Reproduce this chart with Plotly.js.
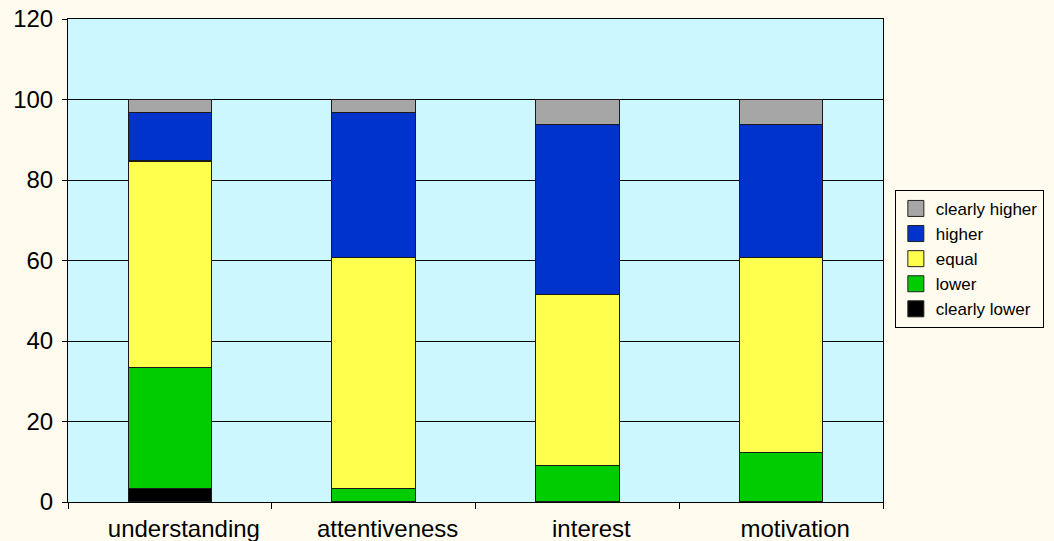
<!DOCTYPE html>
<html>
<head>
<meta charset="utf-8">
<script src="https://cdn.plot.ly/plotly-3.0.1.min.js"></script>
<style>html,body{margin:0;padding:0;background:#FFFCEF;}</style>
</head>
<body>
<div id="chart" style="width:1054px;height:541px;"></div>
<script>
const categories = ["understanding", "attentiveness", "interest", "motivation"];
const clearlyLower = [3.3, 0, 0, 0];
const lower = [30.2, 3.3, 9.1, 12.3];
const equal = [51.2, 57.4, 42.5, 48.4];
const higher = [12.1, 36.1, 42.2, 33.1];
const clearlyHigher = [3.2, 3.2, 6.2, 6.2];
const yTicks = [0, 20, 40, 60, 80, 100, 120];

const seriesNames = ["clearly lower", "lower", "equal", "higher", "clearly higher"];
const seriesValues = [clearlyLower, lower, equal, higher, clearlyHigher];
const seriesColors = ["#000000", "#00CC00", "#FFFF4D", "#0033CC", "#A6A6A6"];

const traces = seriesNames.map((n, i) => ({
  type: "bar",
  name: n,
  legendgroup: n,
  showlegend: false,
  x: categories,
  y: seriesValues[i],
  marker: {color: seriesColors[i], line: {color: "#1a1a1a", width: 1.2}},
  hoverinfo: "x+y+name"
}));
// legend entries (larger square swatches)
seriesNames.forEach((n, i) => {
  traces.push({
    type: "scatter", mode: "markers", name: n, legendgroup: n,
    x: [null], y: [null],
    marker: {symbol: "square", size: 16, color: seriesColors[i], line: {color: "#222", width: 1}},
    hoverinfo: "skip"
  });
});

const layout = {
  width: 1054, height: 541,
  margin: {l: 68, r: 171, t: 19, b: 39, pad: 0},
  paper_bgcolor: "#FFFCEF",
  plot_bgcolor: "#CCF7FF",
  barmode: "stack",
  bargap: 0.59,
  font: {family: "Liberation Sans, Arial, sans-serif", color: "#000000", size: 20},
  xaxis: {
    type: "category",
    showline: true, linecolor: "#000000", linewidth: 1, mirror: true,
    ticks: "outside", ticklen: 6, tickcolor: "#000000", tickson: "boundaries",
    tickfont: {size: 24},
    ticklabelstandoff: 5,
    ticklabelshift: 14,
    showgrid: false
  },
  yaxis: {
    range: [0, 120],
    tickvals: yTicks,
    ticktext: yTicks.map(String),
    showline: true, linecolor: "#000000", linewidth: 1, mirror: true,
    ticks: "outside", ticklen: 5, tickcolor: "#000000",
    showgrid: true, gridcolor: "#000000", gridwidth: 1,
    zeroline: false,
    tickfont: {size: 24},
    ticklabelstandoff: 4
  },
  legend: {
    xref: "container", yref: "container",
    x: 0.849, y: 0.649, xanchor: "left", yanchor: "top",
    traceorder: "reversed",
    bgcolor: "#FFFCEF", bordercolor: "#000000", borderwidth: 1,
    font: {size: 17},
    itemwidth: 30,
    tracegroupgap: 0
  },
  showlegend: true
};

Plotly.newPlot("chart", traces, layout, {displayModeBar: false, staticPlot: true});
</script>
</body>
</html>
